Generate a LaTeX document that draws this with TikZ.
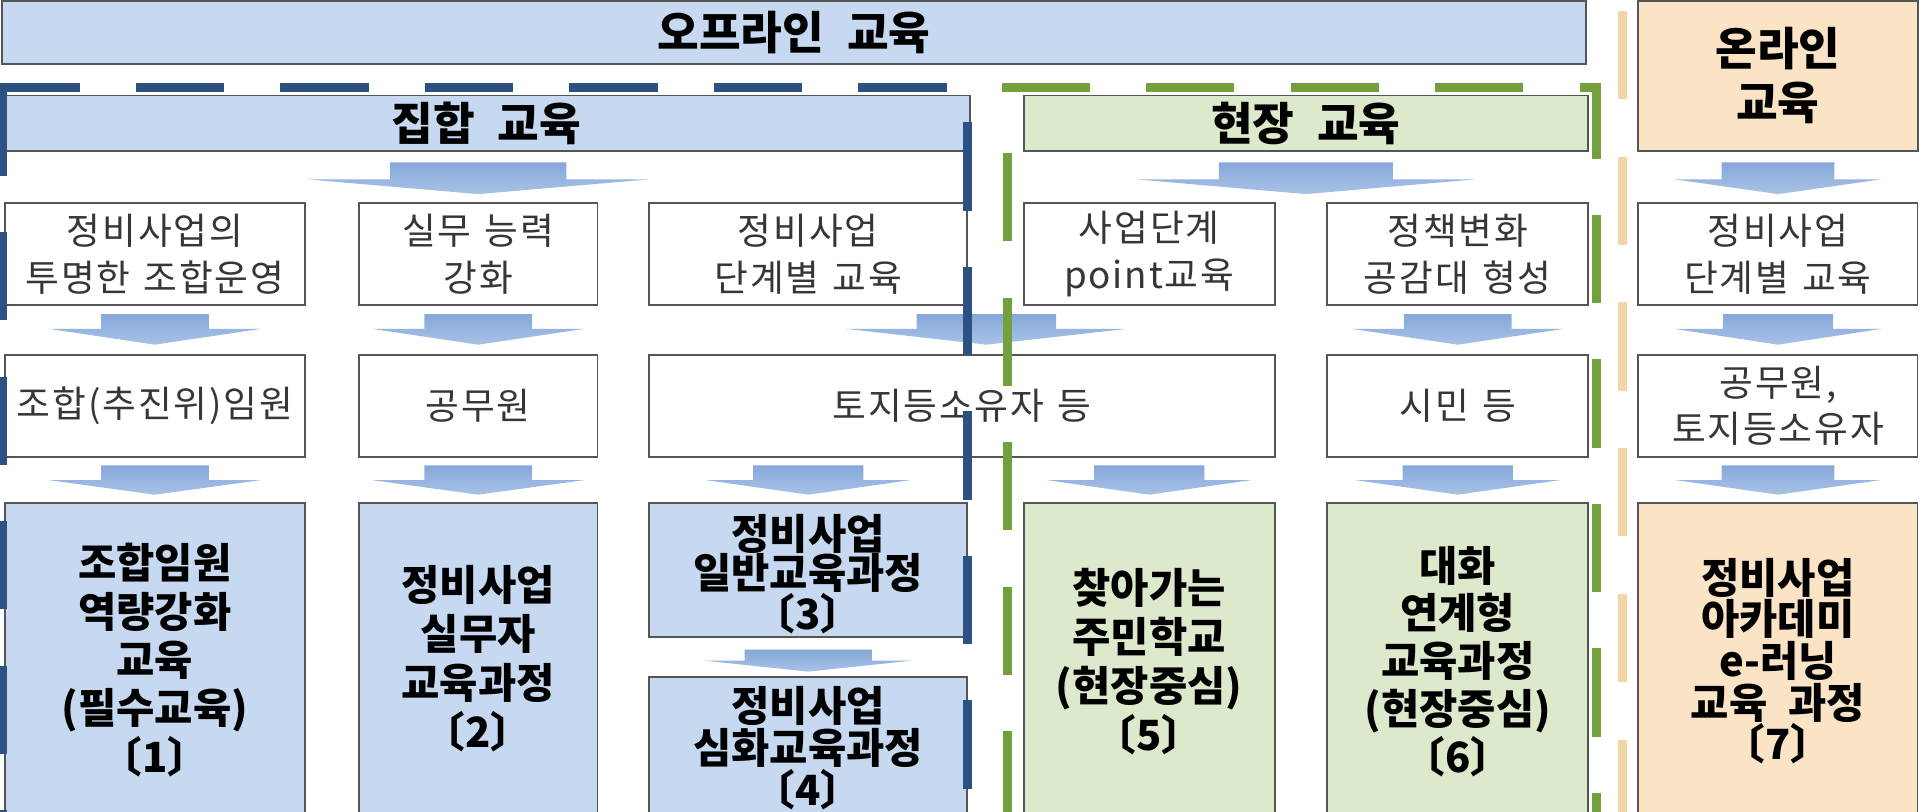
\documentclass[tikz,border=0pt]{standalone}
\usepackage{fontspec}
\setmainfont{Noto Sans CJK KR}[WordSpace=2.2]
\newfontfamily\thinkr{Noto Sans CJK KR}[LetterSpace=5,WordSpace=1.3]
\usetikzlibrary{calc}
\definecolor{lblue}{HTML}{C6D9F1}
\definecolor{lgreen}{HTML}{DCE9CA}
\definecolor{ltan}{HTML}{FBE4C6}
\definecolor{dblue}{HTML}{2B5283}
\definecolor{dgreen}{HTML}{73A03C}
\definecolor{dtan}{HTML}{F2D6A6}
\definecolor{chevtop}{HTML}{86A8D9}
\definecolor{chevbot}{HTML}{A8C2E6}
\definecolor{edgec}{HTML}{555555}
\definecolor{thintext}{HTML}{363636}
\tikzset{
  hdr/.style={draw=edgec, line width=1.6pt, inner sep=0pt, align=center,
    font=\fontsize{37}{44}\selectfont\bfseries, text=black},
  wbox/.style={draw=edgec, line width=1.5pt, fill=white, inner sep=0pt, align=center,
    text=thintext, font=\thinkr\fontsize{30}{38}\selectfont},
  cbox/.style={draw=edgec, line width=1.5pt, inner sep=0pt},
  ctext/.style={align=center, inner sep=0pt, text=black,
    font=\fontsize{34}{#1}\selectfont\bfseries},
  bluedash/.style={draw=dblue, line width=7.5pt, dash pattern=on 72pt off 46pt},
  greendash/.style={draw=dgreen, line width=7.5pt, dash pattern=on 72pt off 46pt},
  tandash/.style={draw=dtan, line width=7.5pt, dash pattern=on 72pt off 47pt},
  pics/chev/.style n args={5}{code={
    \shade[top color=chevtop, bottom color=chevbot]
      (-#1,#3) -- (#1,#3) -- (#1,#4) -- (#2,#4) -- (0,#5) -- (-#2,#4) -- (-#1,#4) -- cycle;}},
}
\begin{document}
\begin{tikzpicture}[x=1pt,y=-1pt]
\useasboundingbox (0,0) rectangle (1568,663);
\clip (0,0) rectangle (1568,663);
\fill[white] (0,0) rectangle (1568,663);

% headers
\node[hdr, fill=lblue, minimum width=1293pt, minimum height=51pt] (top) at (648.5,26.5) {오프라인 교육};
\node[hdr, fill=ltan, minimum width=228pt, minimum height=122pt] (hon) at (1452,62) {온라인\\교육};
\node[hdr, fill=lblue, minimum width=790pt, minimum height=45pt] (hA) at (397,100.5) {집합 교육};
\node[hdr, fill=lgreen, minimum width=461pt, minimum height=45pt] (hB) at (1066.5,100.5) {현장 교육};

% row 1
\node[wbox, minimum width=245pt, minimum height=83pt] (r1a) at (126.5,207.5) {정비사업의\\투명한 조합운영};
\node[wbox, minimum width=195pt, minimum height=83pt] (r1b) at (390.5,207.5) {실무 능력\\강화};
\node[wbox, minimum width=260pt, minimum height=83pt] (r1c) at (660,207.5) {정비사업\\단계별 교육};
\node[wbox, minimum width=205pt, minimum height=83pt] (r1d) at (938.5,207.5) {사업단계\\point교육};
\node[wbox, minimum width=213pt, minimum height=83pt] (r1e) at (1190.5,207.5) {정책변화\\공감대 형성};
\node[wbox, minimum width=228pt, minimum height=83pt] (r1f) at (1452,207.5) {정비사업\\단계별 교육};

% row 2
\node[wbox, minimum width=245pt, minimum height=83pt] (r2a) at (126.5,331.5) {조합(추진위)임원};
\node[wbox, minimum width=195pt, minimum height=83pt] (r2b) at (390.5,331.5) {공무원};
\node[wbox, minimum width=511pt, minimum height=83pt] (r2c) at (785.5,331.5) {토지등소유자 등};
\node[wbox, minimum width=213pt, minimum height=83pt] (r2e) at (1190.5,331.5) {시민 등};
\node[wbox, minimum width=228pt, minimum height=83pt] (r2f) at (1452,331.5) {공무원,\\토지등소유자};

% row 3 boxes
\node[cbox, fill=lblue, minimum width=245pt, minimum height=289pt] (c1) at (126.5,555.5) {};
\node[cbox, fill=lblue, minimum width=195pt, minimum height=289pt] (c2) at (390.5,555.5) {};
\node[cbox, fill=lblue, minimum width=260pt, minimum height=109pt] (c3) at (660,465.5) {};
\node[cbox, fill=lblue, minimum width=260pt, minimum height=147pt] (c4) at (660,626.5) {};
\node[cbox, fill=lgreen, minimum width=205pt, minimum height=289pt] (c5) at (938.5,555.5) {};
\node[cbox, fill=lgreen, minimum width=213pt, minimum height=289pt] (c6) at (1190.5,555.5) {};
\node[cbox, fill=ltan, minimum width=228pt, minimum height=289pt] (c7) at (1452,555.5) {};

% row 3 texts
\node[ctext=39.5pt] (t1) at (c1.center |- 0,539) {조합임원\\역량강화\\교육\\(필수교육)\\〔1〕};
\node[ctext=40pt] (t2) at (c2.center |- 0,538) {정비사업\\실무자\\교육과정\\〔2〕};
\node[ctext=32pt] (t3) at (c3.center |- 0,469) {정비사업\\일반교육과정\\〔3〕};
\node[ctext=34pt] (t4) at (c4.center |- 0,611) {정비사업\\심화교육과정\\〔4〕};
\node[ctext=40pt] (t5) at (c5.center |- 0,540) {찾아가는\\주민학교\\(현장중심)\\〔5〕};
\node[ctext=39pt] (t6) at (c6.center |- 0,540) {대화\\연계형\\교육과정\\(현장중심)\\〔6〕};
\node[ctext=34pt] (t7) at (c7.center |- 0,540) {정비사업\\아카데미\\e-러닝\\교육 과정\\〔7〕};

% arrows: headers -> row 1
\pic at ($(hA.south -| r1b.north)!0.5!(r1b.north)$) {chev={72}{139}{-12}{2}{14}};
\pic at ($(hB.south)!0.5!(hB.south |- r1d.north)$) {chev={71}{138}{-12}{2}{14}};
\pic at ($(hon.south)!0.5!(r1f.north)$) {chev={46}{84}{-12}{2}{14}};
% row 1 -> row 2
\pic at ($(r1a.south)!0.5!(r2a.north)$) {chev={44}{87}{-13}{-1}{12}};
\pic at ($(r1b.south)!0.5!(r2b.north)$) {chev={44}{87}{-13}{-1}{12}};
\pic at ($(r1c.south -| r2c.north)!0.5!(r2c.north)+(20,0)$) {chev={57}{115}{-13}{-1}{12}};
\pic at ($(r1e.south)!0.5!(r2e.north)$) {chev={44}{87}{-13}{-1}{12}};
\pic at ($(r1f.south)!0.5!(r2f.north)$) {chev={45}{85}{-13}{-1}{12}};
% row 2 -> row 3
\pic at ($(r2a.south)!0.5!(c1.north)$) {chev={44}{87}{-12}{0}{12}};
\pic at ($(r2b.south)!0.5!(c2.north)$) {chev={44}{87}{-12}{0}{12}};
\pic at ($(r2c.south -| c3.north)!0.5!(c3.north)$) {chev={45}{84}{-12}{0}{12}};
\pic at ($(r2c.south -| c5.north)!0.5!(c5.north)$) {chev={45}{84}{-12}{0}{12}};
\pic at ($(r2e.south)!0.5!(c6.north)$) {chev={45}{84}{-12}{0}{12}};
\pic at ($(r2f.south)!0.5!(c7.north)$) {chev={46}{84}{-12}{0}{12}};
% box 3 -> box 4
\pic at ($(c3.south)!0.5!(c4.north)$) {chev={52}{85}{-6}{3}{12}};

% group frames
\draw[bluedash] (-7,71.5) -- (790,71.5);
\draw[bluedash] (790,100) -- (790,700);
\draw[bluedash] (2,71.5) -- (2,700);
\draw[greendash] (818,71.5) -- (1304,71.5) -- (1304,700);
\draw[greendash] (823,125) -- (823,700);
\draw[tandash] (1325,9) -- (1325,700);
\end{tikzpicture}
\end{document}
